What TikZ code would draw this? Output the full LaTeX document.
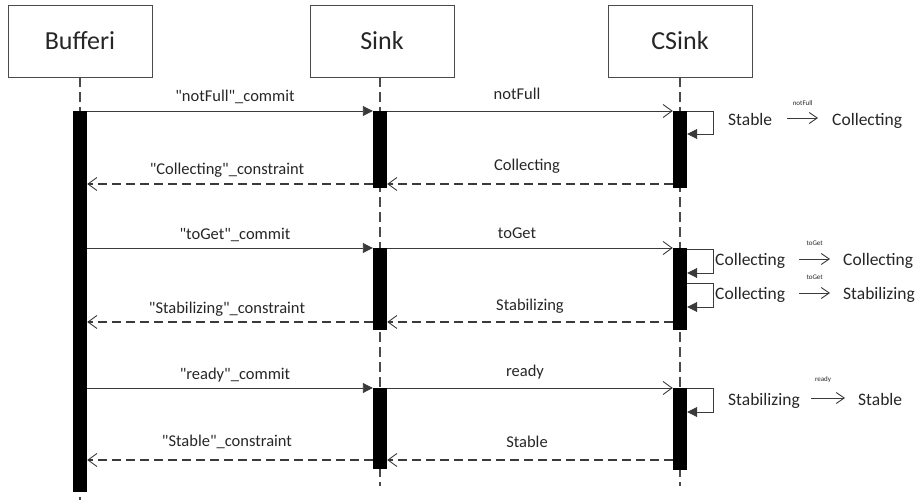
\documentclass[tikz,border=0pt]{standalone}
\usepackage{fontspec}
\setmainfont{Carlito}[Ligatures=TeXOff]
\usetikzlibrary{arrows.meta}
\definecolor{txt}{HTML}{262626}
\definecolor{linec}{HTML}{3A3A3A}
\definecolor{boxc}{HTML}{4A4A4A}
\begin{document}
\begin{tikzpicture}[x=1pt,y=-1pt,
  every node/.style={inner sep=0pt, text=txt},
  head/.style={draw=boxc, line width=0.9pt, minimum width=144pt, minimum height=72pt,
    font=\fontsize{26}{30}\selectfont},
  life/.style={draw=boxc, line width=1.4pt, dash pattern=on 10pt off 5pt},
  actbar/.style={fill=black, minimum width=14pt},
  msg/.style={draw=linec, line width=0.9pt, -{Triangle[length=10pt,width=10pt]}},
  rmsg/.style={draw=linec, line width=0.9pt, -{Straight Barb[length=9pt,width=13pt]}},
  ret/.style={draw=linec, line width=1.2pt, dash pattern=on 9pt off 5pt,
    -{Straight Barb[length=9pt,width=13pt,line width=0.9pt]}},
  lbl/.style={font=\fontsize{16.5}{18}\selectfont, anchor=base},
  st/.style={font=\fontsize{17.5}{20}\selectfont, anchor=base west},
  tinylbl/.style={font=\fontsize{7}{8}\selectfont},
  selfloop/.style={draw=linec, line width=0.9pt, -{Triangle[length=10pt,width=10pt]}},
  stto/.style={draw=linec, line width=0.9pt, -{Straight Barb[length=8pt,width=11pt]}},
]
\useasboundingbox (0,0) rectangle (918,500);

% participants
\node[head] (hB) at (80,41) {Bufferi};
\node[head] (hS) at (382,41) {Sink};
\node[head] (hC) at (680,41) {CSink};

% lifeline ends
\coordinate (eB) at (80,500);
\coordinate (eS) at (380,486);
\coordinate (eC) at (680,486);
\draw[life] (hB.south -| eB) -- (eB);
\draw[life] (hS.south -| eS) -- (eS);
\draw[life] (hC.south -| eC) -- (eC);

% activation bars
\node[actbar, minimum height=381pt] (bB) at (80,301.5) {};
\node[actbar, minimum height=77pt] (bS1) at (380,149.5) {};
\node[actbar, minimum height=82pt] (bS2) at (380,289) {};
\node[actbar, minimum height=81pt] (bS3) at (380,428.5) {};
\node[actbar, minimum height=77pt] (bC1) at (680,149.5) {};
\node[actbar, minimum height=82pt] (bC2) at (680,289) {};
\node[actbar, minimum height=82pt] (bC3) at (680,429) {};

% message rows
\coordinate (r1) at (0,111);
\coordinate (r2) at (0,184);
\coordinate (r3) at (0,248);
\coordinate (r4) at (0,322);
\coordinate (r5) at (0,388);
\coordinate (r6) at (0,460);

% round 1: notFull
\draw[msg] (bB.east |- r1) -- (bS1.west |- r1);
\node[lbl] (m1) at (235,102) {"notFull"\_commit};
\draw[rmsg] (bS1.east |- r1) -- (bC1.west |- r1);
\node[lbl] (m2) at (517,100) {notFull};
\draw[ret] (bC1.west |- r2) -- (bS1.east |- r2);
\node[lbl] (m3) at (527,171) {Collecting};
\draw[ret] (bS1.west |- r2) -- (bB.east |- r2);
\node[lbl] (m4) at (227,175) {"Collecting"\_constraint};

% round 2: toGet
\draw[msg] (bB.east |- r3) -- (bS2.west |- r3);
\node[lbl] (m5) at (235,239) {"toGet"\_commit};
\draw[rmsg] (bS2.east |- r3) -- (bC2.west |- r3);
\node[lbl] (m6) at (517,238) {toGet};
\draw[ret] (bC2.west |- r4) -- (bS2.east |- r4);
\node[lbl] (m7) at (530,310) {Stabilizing};
\draw[ret] (bS2.west |- r4) -- (bB.east |- r4);
\node[lbl] (m8) at (227,313) {"Stabilizing"\_constraint};

% round 3: ready
\draw[msg] (bB.east |- r5) -- (bS3.west |- r5);
\node[lbl] (m9) at (235,379) {"ready"\_commit};
\draw[rmsg] (bS3.east |- r5) -- (bC3.west |- r5);
\node[lbl] (m10) at (525,376) {ready};
\draw[ret] (bC3.west |- r6) -- (bS3.east |- r6);
\node[lbl] (m11) at (527,447) {Stable};
\draw[ret] (bS3.west |- r6) -- (bB.east |- r6);
\node[lbl] (m12) at (227,446) {"Stable"\_constraint};

% self transitions of CSink
\coordinate (l1) at (0,134);
\coordinate (l2s) at (0,249);
\coordinate (l2) at (0,273);
\coordinate (l3s) at (0,283);
\coordinate (l3) at (0,307);
\coordinate (l4) at (0,412);
\draw[selfloop] (bC1.east |- r1) -- ++(26,0) |- (bC1.east |- l1);
\draw[selfloop] (bC2.east |- l2s) -- ++(26,0) |- (bC2.east |- l2);
\draw[selfloop] (bC2.east |- l3s) -- ++(26,0) |- (bC2.east |- l3);
\draw[selfloop] (bC3.east |- r5) -- ++(26,0) |- (bC3.east |- l4);

% state changes
\node[st] (s1a) at (728,125) {Stable};
\node[st] (s1b) at (832,125) {Collecting};
\draw[stto] ([xshift=15pt,yshift=7pt]s1a.base east) -- node[tinylbl, yshift=15pt] {notFull}
  ([xshift=-14pt,yshift=7pt]s1b.base west);

\node[st] (s2a) at (715,265) {Collecting};
\node[st] (s2b) at (843,265) {Collecting};
\draw[stto] ([xshift=14pt,yshift=6pt]s2a.base east) -- node[tinylbl, yshift=16pt] {toGet}
  ([xshift=-13pt,yshift=6pt]s2b.base west);

\node[st] (s3a) at (715,299) {Collecting};
\node[st] (s3b) at (843,299) {Stabilizing};
\draw[stto] ([xshift=14pt,yshift=6pt]s3a.base east) -- node[tinylbl, yshift=16pt] {toGet}
  ([xshift=-13pt,yshift=6pt]s3b.base west);

\node[st] (s4a) at (728,405) {Stabilizing};
\node[st] (s4b) at (858,405) {Stable};
\draw[stto] ([xshift=11pt,yshift=7pt]s4a.base east) -- node[tinylbl, yshift=18pt, xshift=-5pt] {ready}
  ([xshift=-13pt,yshift=7pt]s4b.base west);
\end{tikzpicture}
\end{document}
